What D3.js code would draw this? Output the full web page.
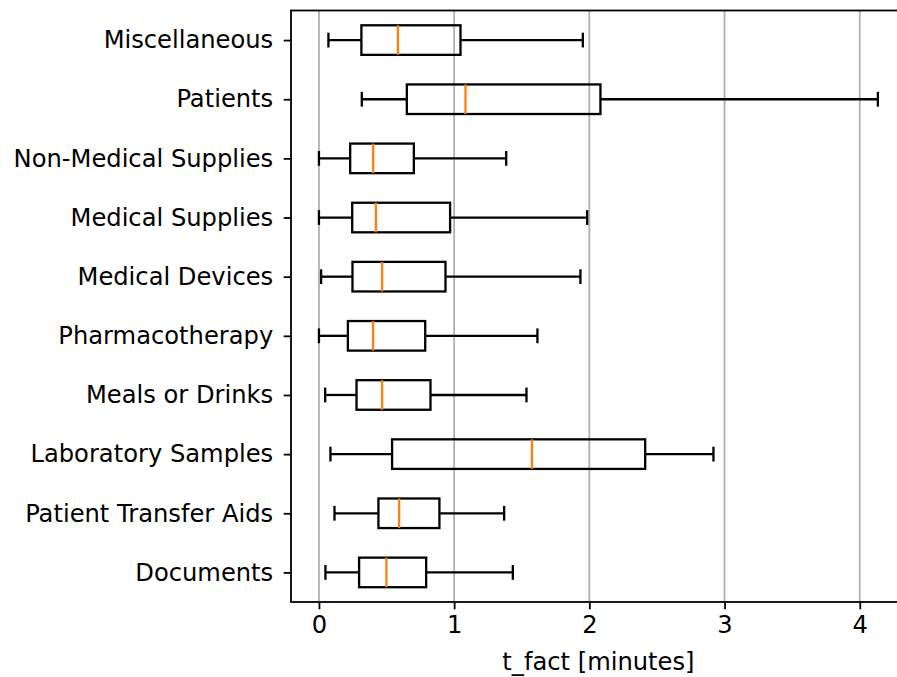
<!DOCTYPE html>
<html>
  <head>
    <meta charset="utf-8">
    <title>t_fact by category</title>
    <script src="https://d3js.org/d3.v7.min.js"></script>
    <style>
      body { margin: 0; background: #fff; }
      svg, svg text { font-family: "DejaVu Sans", sans-serif; }
      .tick text { font-size: 24.2px; fill: #000; }
    </style>
  </head>
  <body>
    <svg id="svg" width="897" height="677"></svg>
    <script>
      // data, bottom to top as in the original
      var categories = ["Documents", "Patient Transfer Aids", "Laboratory Samples", "Meals or Drinks",
        "Pharmacotherapy", "Medical Devices", "Medical Supplies", "Non-Medical Supplies", "Patients", "Miscellaneous"];
      var whiskerLow = [0.048, 0.115, 0.085, 0.046, 0.0, 0.016, 0.0, 0.0, 0.317, 0.07];
      var q1 = [0.297, 0.440, 0.541, 0.278, 0.214, 0.248, 0.246, 0.231, 0.650, 0.314];
      var median = [0.499, 0.593, 1.575, 0.467, 0.401, 0.467, 0.421, 0.401, 1.084, 0.584];
      var q3 = [0.793, 0.891, 2.413, 0.825, 0.786, 0.936, 0.970, 0.702, 2.082, 1.047];
      var whiskerHigh = [1.434, 1.370, 2.918, 1.535, 1.616, 1.934, 1.984, 1.385, 4.134, 1.952];
      var xTicks = [0, 1, 2, 3, 4];

      var boxes = categories.map(function(c, i) {
        return { name: c, pos: i + 1, lo: whiskerLow[i], q1: q1[i], med: median[i], q3: q3[i], hi: whiskerHigh[i] };
      });

      // layout
      var plotLeft = 291, plotTop = 10.5, plotBottom = 602;
      var minX = 0, maxX = d3.max(whiskerHigh);
      var pad = (maxX - minX) * 0.05;
      var x = d3.scaleLinear()
        .domain([minX - pad, maxX + pad])
        .range([plotLeft, plotLeft + (maxX - minX + 2 * pad) * 135.2]);
      var y = d3.scaleLinear()
        .domain([0.5, categories.length + 0.5])
        .range([plotBottom, plotTop]);
      var plotRight = x.range()[1];
      var boxH = y(0) - y(0.5);     // widths 0.5
      var capH = y(0) - y(0.25);

      var svg = d3.select("#svg");

      // grid
      svg.append("g")
        .selectAll("line")
          .data(xTicks)
        .enter().append("line")
          .attr("x1", function(d) { return x(d); })
          .attr("x2", function(d) { return x(d); })
          .attr("y1", plotTop)
          .attr("y2", plotBottom)
          .attr("stroke", "#b0b0b0")
          .attr("stroke-width", 1.8);

      // boxes
      var g = svg.append("g")
        .selectAll("g")
          .data(boxes)
        .enter().append("g")
          .attr("transform", function(d) { return "translate(0," + y(d.pos) + ")"; })
          .attr("stroke", "#000")
          .attr("stroke-width", 2.3)
          .attr("fill", "none");
      g.append("line")
        .attr("x1", function(d) { return x(d.lo); })
        .attr("x2", function(d) { return x(d.q1); });
      g.append("line")
        .attr("x1", function(d) { return x(d.q3); })
        .attr("x2", function(d) { return x(d.hi); });
      g.append("line")
        .attr("x1", function(d) { return x(d.lo); })
        .attr("x2", function(d) { return x(d.lo); })
        .attr("y1", -capH / 2).attr("y2", capH / 2);
      g.append("line")
        .attr("x1", function(d) { return x(d.hi); })
        .attr("x2", function(d) { return x(d.hi); })
        .attr("y1", -capH / 2).attr("y2", capH / 2);
      g.append("rect")
        .attr("x", function(d) { return x(d.q1); })
        .attr("width", function(d) { return x(d.q3) - x(d.q1); })
        .attr("y", -boxH / 2)
        .attr("height", boxH);
      g.append("line")
        .attr("x1", function(d) { return x(d.med); })
        .attr("x2", function(d) { return x(d.med); })
        .attr("y1", -boxH / 2).attr("y2", boxH / 2)
        .attr("stroke", "#ff7f0e");

      // axes
      svg.append("g")
        .attr("transform", "translate(0," + plotBottom + ")")
        .call(d3.axisBottom(x).tickValues(xTicks).tickFormat(d3.format("d")).tickSizeOuter(0).tickSize(7.3).tickPadding(7));
      svg.append("g")
        .attr("transform", "translate(" + plotLeft + ",0)")
        .call(d3.axisLeft(y).tickValues(boxes.map(function(d) { return d.pos; }))
          .tickFormat(function(d) { return categories[d - 1]; }).tickSizeOuter(0).tickSize(7.3).tickPadding(10.5));
      svg.selectAll(".domain").remove();
      svg.selectAll(".tick line").attr("stroke", "#000").attr("stroke-width", 1.8);

      // spines
      svg.append("rect")
        .attr("x", plotLeft).attr("y", plotTop)
        .attr("width", plotRight - plotLeft).attr("height", plotBottom - plotTop)
        .attr("fill", "none").attr("stroke", "#000").attr("stroke-width", 1.8);

      svg.append("text")
        .attr("x", (plotLeft + plotRight) / 2)
        .attr("y", 670)
        .attr("text-anchor", "middle")
        .attr("font-size", 24.2)
        .text("t_fact [minutes]");
    </script>
  </body>
</html>
